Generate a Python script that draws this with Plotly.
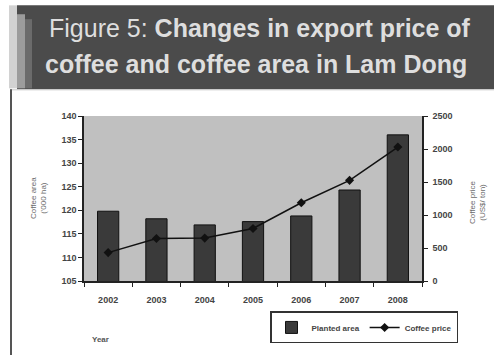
import plotly.graph_objects as go

# Lam Dong coffee data
years = ["2002", "2003", "2004", "2005", "2006", "2007", "2008"]
planted_area = [119.8, 118.2, 116.9, 117.6, 118.8, 124.3, 136.0]   # '000 ha
coffee_price = [430, 645, 650, 795, 1185, 1525, 2030]               # US$/ton

left_ticks = [105, 110, 115, 120, 125, 130, 135, 140]
right_ticks = [0, 500, 1000, 1500, 2000, 2500]

W, H = 494, 356
ML, MR, MT, MB = 84, 72, 116, 73
PW, PH = W - ML - MR, H - MT - MB


def px(x):
    return (x - ML) / PW


def py(y):
    return (H - MB - y) / PH


TITLE_FONT = dict(family="Liberation Sans, Arial, sans-serif", size=25, color="#dedede")
TICK_FONT = dict(family="Liberation Sans", size=9, color="#444444", weight="bold")
TEXT_GREY = "#6a6a6a"

fig = go.Figure()
fig.add_trace(go.Bar(
    x=years, y=planted_area, name="<b>Planted area</b>", yaxis="y",
    marker=dict(color="#3a3a3a", line=dict(color="#111111", width=1)),
))
fig.add_trace(go.Scatter(
    x=years, y=coffee_price, name="<b>Coffee price</b>", yaxis="y2", mode="lines+markers",
    line=dict(color="#111111", width=1.5),
    marker=dict(symbol="diamond", size=7, color="#111111"),
))

shapes = [
    # banner blocks
    dict(type="rect", xref="paper", yref="paper", x0=px(17), x1=px(W + 2), y0=py(89), y1=py(4),
         fillcolor="#4b4b4b", line=dict(width=0), layer="below"),
    dict(type="rect", xref="paper", yref="paper", x0=px(9), x1=px(17), y0=py(88), y1=py(4),
         fillcolor="#d2d2d2", line=dict(width=0), layer="below"),
    dict(type="rect", xref="paper", yref="paper", x0=px(17), x1=px(25), y0=py(88), y1=py(13),
         fillcolor="#9c9c9c", line=dict(width=0), layer="below"),
    dict(type="rect", xref="paper", yref="paper", x0=px(25), x1=px(32), y0=py(88), y1=py(18),
         fillcolor="#6b6b6b", line=dict(width=0), layer="below"),
    # frame under the banner
    dict(type="line", xref="paper", yref="paper", x0=px(10), x1=px(W + 2), y0=py(89.5), y1=py(89.5),
         line=dict(color="#c8c8c8", width=1), layer="below"),
    dict(type="line", xref="paper", yref="paper", x0=px(11), x1=px(11), y0=py(89), y1=py(H + 2),
         line=dict(color="#555555", width=2), layer="below"),
]

annotations = [
    dict(text="Figure 5: <b>Changes in export price of</b>", x=px(47), y=py(27),
         xref="paper", yref="paper", xanchor="left", yanchor="middle", showarrow=False,
         font=TITLE_FONT),
    dict(text="<b>coffee and coffee area in Lam Dong</b>", x=px(43), y=py(63),
         xref="paper", yref="paper", xanchor="left", yanchor="middle", showarrow=False,
         font=TITLE_FONT),
    dict(text="Coffee area<br>('000 ha)", x=px(38), y=py(199), textangle=-90,
         xref="paper", yref="paper", xanchor="center", yanchor="middle", showarrow=False,
         font=dict(family="Liberation Sans", size=8, color=TEXT_GREY)),
    dict(text="Coffee price<br>(US$/ ton)", x=px(478), y=py(203), textangle=-90,
         xref="paper", yref="paper", xanchor="center", yanchor="middle", showarrow=False,
         font=dict(family="Liberation Sans", size=8, color=TEXT_GREY)),
    dict(text="<b>Year</b>", x=px(90), y=py(342),
         xref="paper", yref="paper", xanchor="left", yanchor="middle", showarrow=False,
         font=dict(family="Liberation Sans", size=8, color="#555555")),
]

fig.update_layout(
    width=W, height=H,
    margin=dict(l=ML, r=MR, t=MT, b=MB, pad=0),
    paper_bgcolor="white",
    plot_bgcolor="#c0c0c0",
    bargap=0.56,
    showlegend=True,
    legend=dict(
        orientation="h", x=px(458), y=py(330), xanchor="right", yanchor="middle",
        bgcolor="white", bordercolor="#333333", borderwidth=1.5,
        font=dict(family="Liberation Sans", size=8, color="#444444"),
        itemwidth=30, tracegroupgap=0,
    ),
    xaxis=dict(
        type="category", tickson="boundaries", ticks="outside", ticklen=4, tickcolor="#222222",
        showline=True, linecolor="#222222", linewidth=1.5, showgrid=False,
        tickfont=TICK_FONT, ticklabelstandoff=9,
    ),
    yaxis=dict(
        range=[105, 140], tickvals=left_ticks, ticks="outside", ticklen=4, tickcolor="#222222",
        showline=True, linecolor="#222222", linewidth=1.5, showgrid=False, zeroline=False,
        tickfont=TICK_FONT,
    ),
    yaxis2=dict(
        range=[0, 2500], tickvals=right_ticks, overlaying="y", side="right",
        ticks="outside", ticklen=4, tickcolor="#222222",
        showline=True, linecolor="#222222", linewidth=1.5, showgrid=False, zeroline=False,
        tickfont=TICK_FONT, ticklabelstandoff=3,
    ),
    shapes=shapes,
    annotations=annotations,
)

fig.write_html("out.html")
